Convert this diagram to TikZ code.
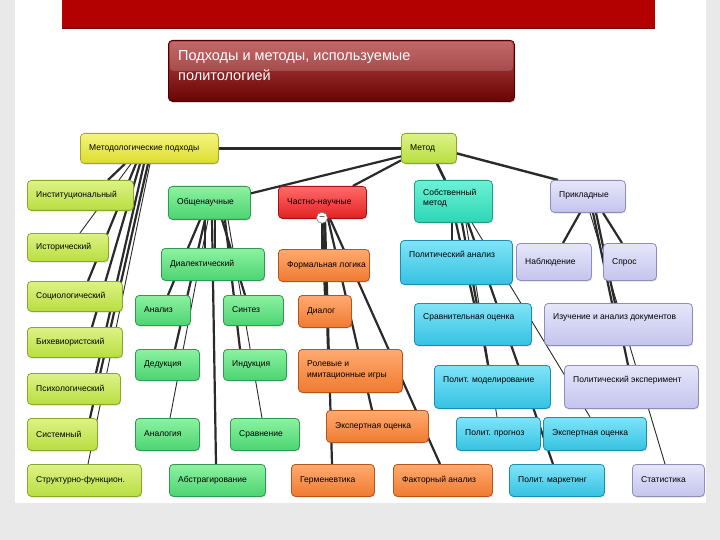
\documentclass[tikz,border=0pt]{standalone}
\usepackage{fontspec}
\setmainfont{Liberation Sans}
\usetikzlibrary{shadows}
\pgfdeclarelayer{back}
\pgfdeclarelayer{links}
\pgfsetlayers{back,links,main}
\definecolor{yT}{HTML}{F4F47E}\definecolor{yB}{HTML}{DCDC30}\definecolor{yD}{HTML}{A8A820}
\definecolor{lT}{HTML}{DDF286}\definecolor{lB}{HTML}{B8DE40}\definecolor{lD}{HTML}{86A82A}
\definecolor{gT}{HTML}{8CF2A0}\definecolor{gB}{HTML}{4CD472}\definecolor{gD}{HTML}{2E9A50}
\definecolor{rT}{HTML}{FF6A6A}\definecolor{rB}{HTML}{E32222}\definecolor{rD}{HTML}{A81010}
\definecolor{oT}{HTML}{FFAA70}\definecolor{oB}{HTML}{F07A30}\definecolor{oD}{HTML}{B85418}
\definecolor{tT}{HTML}{6CF2D6}\definecolor{tB}{HTML}{2ED6B4}\definecolor{tD}{HTML}{1EA088}
\definecolor{cT}{HTML}{80E4F8}\definecolor{cB}{HTML}{34C2E2}\definecolor{cD}{HTML}{1A8EAE}
\definecolor{pT}{HTML}{E6E6FA}\definecolor{pB}{HTML}{C4C4EE}\definecolor{pD}{HTML}{8E8EBE}
\definecolor{bgc}{HTML}{E9E9E9}
\definecolor{banner}{HTML}{B30000}
\definecolor{lnc}{HTML}{2A2A2A}
\definecolor{tiT}{HTML}{B84848}\definecolor{tiB}{HTML}{6A0404}\definecolor{tiD}{HTML}{4A0000}
\tikzset{
  box/.style={rounded corners=4pt,line width=0.8pt,inner sep=0pt,
    drop shadow={opacity=0.25,shadow xshift=0.8pt,shadow yshift=-1.2pt}},
  yel/.style={top color=yT,bottom color=yB,draw=yD},
  lim/.style={top color=lT,bottom color=lB,draw=lD},
  grn/.style={top color=gT,bottom color=gB,draw=gD},
  redb/.style={top color=rT,bottom color=rB,draw=rD},
  org/.style={top color=oT,bottom color=oB,draw=oD},
  teal/.style={top color=tT,bottom color=tB,draw=tD},
  cyn/.style={top color=cT,bottom color=cB,draw=cD},
  pur/.style={top color=pT,bottom color=pB,draw=pD},
  txt/.style={inner sep=0pt,align=left,font=\fontsize{8.5}{10.5}\selectfont,text=black},
  ln/.style={draw=lnc,line width=2.2pt},
  thinln/.style={draw=lnc,line width=0.9pt},
}
% #1 name, #2 style, #3 x1, #4 y1, #5 x2, #6 y2, #7 text offset from top, #8 text
\newcommand\bx[8]{%
  \expandafter\gdef\csname bxX#1\endcsname{#3}%
  \node[box,#2,minimum width={(#5-#3)*1pt},minimum height={(#6-#4)*1pt},anchor=north west] (#1) at (#3,#4) {};
  \node[txt,anchor=west] (#1-t) at ([xshift=9pt,yshift=-#7pt]#1.north west) {#8};}
% link: [style] parent, parent x, child, child x
\newcommand\lk[5][ln]{%
  \draw[#1] ([xshift={(#3-\csname bxX#2\endcsname)*1pt}]#2.south west) -- ([xshift={(#5-\csname bxX#4\endcsname)*1pt}]#4.north west);}
\begin{document}
\begin{tikzpicture}[x=1pt,y=-1pt]
\useasboundingbox (0,0) rectangle (720,540);
\begin{pgfonlayer}{back}
  \fill[bgc] (0,0) rectangle (720,540);
  \fill[white] (15,0) rectangle (706,503);
  \fill[banner] (62,0) rectangle (655,29);
  \draw[banner!70!black,line width=1pt] (62,28.5) -- (655,28.5);
\end{pgfonlayer}
% title
\node[rounded corners=4pt,top color=tiT,bottom color=tiB,draw=tiD,line width=0.8pt,
  minimum width=346pt,minimum height=61pt,anchor=north west,inner sep=0pt,
  drop shadow={opacity=0.3,shadow xshift=1pt,shadow yshift=-1.5pt}] (title) at (168,40) {};
\fill[white,opacity=0.18,rounded corners=3pt] ([xshift=2pt,yshift=-2pt]title.north west) rectangle ([xshift=-2pt,yshift=31pt]title.south east);
\node[inner sep=0pt,anchor=west,align=left,text=white,font=\fontsize{14.5}{20}\selectfont]
  (title-t) at ([xshift=10pt,yshift=-26pt]title.north west) {Подходы и методы, используемые\\политологией};
% boxes
\bx{mp}{yel}{80}{133}{218}{163}{15}{Методологические подходы}
\bx{met}{lim}{401}{133}{456}{163}{15}{Метод}
\bx{inst}{lim}{27}{180}{133}{210}{15}{Институциональный}
\bx{hist}{lim}{27}{233}{108}{261}{14}{Исторический}
\bx{soc}{lim}{27}{281}{122}{311}{15}{Социологический}
\bx{beh}{lim}{27}{327}{122}{357}{15}{Бихевиористский}
\bx{psy}{lim}{27}{373}{120}{404}{15}{Психологический}
\bx{sys}{lim}{27}{418}{97}{450}{16}{Системный}
\bx{strf}{lim}{27}{464}{141}{496}{16}{Структурно-функцион.}
\bx{obs}{grn}{168}{186}{250}{219}{16}{Общенаучные}
\bx{dial}{grn}{161}{248}{264}{280}{16}{Диалектический}
\bx{anal}{grn}{135}{295}{190}{325}{15}{Анализ}
\bx{synt}{grn}{223}{295}{283}{325}{15}{Синтез}
\bx{ded}{grn}{135}{349}{199}{380}{15}{Дедукция}
\bx{ind}{grn}{223}{349}{286}{380}{15}{Индукция}
\bx{analog}{grn}{135}{418}{199}{450}{16}{Аналогия}
\bx{sravn}{grn}{230}{418}{299}{450}{16}{Сравнение}
\bx{abstr}{grn}{169}{464}{265}{496}{16}{Абстрагирование}
\bx{chast}{redb}{278}{186}{366}{218}{16}{Частно-научные}
\bx{flog}{org}{278}{249}{369}{281}{16}{Формальная логика}
\bx{dialog}{org}{298}{295}{351}{327}{16}{Диалог}
\bx{roles}{org}{298}{349}{402}{392}{21}{Ролевые и\\имитационные игры}
\bx{expo}{org}{326}{410}{428}{442}{16}{Экспертная оценка}
\bx{herm}{org}{291}{464}{374}{496}{16}{Герменевтика}
\bx{fact}{org}{393}{464}{492}{496}{16}{Факторный анализ}
\bx{sobst}{teal}{414}{180}{492}{222}{18}{Собственный\\ метод}
\bx{polan}{cyn}{400}{240}{512}{284}{14}{Политический анализ}
\bx{sravo}{cyn}{414}{303}{531}{345}{14}{Сравнительная оценка}
\bx{polmod}{cyn}{434}{365}{550}{408}{15}{Полит. моделирование}
\bx{polprog}{cyn}{456}{417}{540}{450}{16}{Полит. прогноз}
\bx{expc}{cyn}{543}{417}{646}{450}{16}{Экспертная оценка}
\bx{polmark}{cyn}{509}{464}{604}{496}{16}{Полит. маркетинг}
\bx{prikl}{pur}{550}{180}{625}{212}{15}{Прикладные}
\bx{nabl}{pur}{516}{243}{591}{280}{19}{Наблюдение}
\bx{spros}{pur}{603}{243}{656}{280}{19}{Спрос}
\bx{izuch}{pur}{544}{303}{692}{345}{14}{Изучение и анализ документов}
\bx{polexp}{pur}{564}{365}{698}{408}{15}{Политический эксперимент}
\bx{stat}{pur}{632}{464}{704}{496}{16}{Статистика}
% collapse marker
\node[circle,fill=white,draw=gray,line width=0.6pt,inner sep=0pt,minimum size=11pt,
  font=\fontsize{9}{9}\selectfont] (chast-c) at ([xshift=44pt,yshift=1pt]chast.south west) {–};
% connectors
\begin{pgfonlayer}{links}
  \draw[ln,line width=2.8pt] (mp.east) -- (met.west);
  \draw[ln] ([yshift=-8pt]met.west) -- ([yshift=9.5pt]obs.east);
  \draw[ln] ([yshift=-12pt]met.west) -- ([xshift=-14pt]chast.north east);
  \draw[ln,line width=2.6pt] ([xshift=36pt]met.south west) -- ([xshift=31pt]sobst.north west);
  \draw[ln,line width=2.4pt] ([yshift=-5pt]met.east) -- ([xshift=8pt]prikl.north west);
  % methodological approaches
  \lk{mp}{125}{inst}{108}
  \lk[thinln]{mp}{131}{hist}{80}
  \lk{mp}{136}{soc}{88}
  \lk{mp}{140}{beh}{92}
  \lk{mp}{144}{psy}{96}
  \lk{mp}{148}{sys}{90}
  \lk[thinln]{mp}{150}{strf}{88}
  % general scientific
  \lk{obs}{205}{dial}{205}
  \lk{obs}{215}{dial}{215}
  \lk{obs}{200}{anal}{168}
  \lk{obs}{205}{ded}{175}
  \lk[thinln]{obs}{208}{analog}{170}
  \lk{obs}{212}{abstr}{216}
  \lk{obs}{222}{synt}{245}
  \lk{obs}{225}{ind}{240}
  \lk[thinln]{obs}{228}{sravn}{262}
  % particular scientific
  \lk{chast}{322}{flog}{322}
  \lk{chast}{322}{dialog}{325}
  \lk{chast}{324}{roles}{328}
  \lk{chast}{325}{herm}{332}
  \lk{chast}{328}{expo}{372}
  \lk{chast}{330}{fact}{440}
  % own method
  \lk{sobst}{452}{polan}{452}
  \lk{sobst}{456}{sravo}{474}
  \lk{sobst}{462}{polmod}{488}
  \lk[thinln]{sobst}{466}{polprog}{497}
  \lk[thinln]{sobst}{472}{expc}{590}
  \lk{sobst}{468}{polmark}{553}
  % applied
  \lk{prikl}{580}{nabl}{563}
  \lk{prikl}{603}{spros}{622}
  \lk{prikl}{593}{izuch}{612}
  \lk{prikl}{596}{polexp}{628}
  \lk[thinln]{prikl}{590}{stat}{665}
\end{pgfonlayer}
\end{tikzpicture}
\end{document}
